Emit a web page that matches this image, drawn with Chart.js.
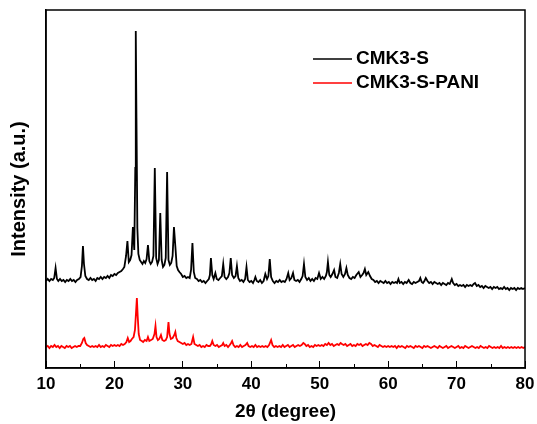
<!DOCTYPE html>
<html>
<head>
<meta charset="utf-8">
<script src="https://cdn.jsdelivr.net/npm/chart.js@4.4.1/dist/chart.umd.min.js"></script>
<style>
  body { margin: 0; background: #fff; }
  #wrap { width: 537px; height: 424px; }
</style>
</head>
<body>
<div id="wrap"><canvas id="xrdChart" width="537" height="424"></canvas></div>
<script>
// series names
var seriesNames = ['CMK3-S', 'CMK3-S-PANI'];

// 2theta (degree), intensity (a.u.)
var cmk3s = [
  [10.0,87],[10.25,89],[10.5,87],[10.75,89],[11.0,88],[11.2,90],[11.4,100],[11.6,89],[11.8,87],[12.05,89],
  [12.3,87],[12.55,88],[12.8,86],[13.05,88],[13.3,87],[13.55,89],[13.8,87],[14.05,88],[14.3,86],[14.55,88],
  [14.8,89],[15.05,91],[15.25,102],[15.4,122],[15.55,104],[15.75,92],[16.0,89],[16.25,88],[16.5,90],[16.75,88],
  [17.0,89],[17.25,87],[17.5,90],[17.75,89],[18.0,91],[18.25,89],[18.5,91],[18.75,90],[19.0,92],[19.25,90],
  [19.5,93],[19.75,92],[20.0,94],[20.25,93],[20.5,95],[20.75,96],[21.0,97],[21.25,99],[21.45,101],[21.7,112],
  [21.9,127],[22.1,106],[22.3,108],[22.5,113],[22.7,141],[22.9,118],[23.05,200],[23.12,337],[23.22,250],[23.35,140],
  [23.5,114],[23.7,108],[23.9,106],[24.1,104],[24.3,107],[24.5,105],[24.7,109],[24.9,123],[25.1,107],[25.3,104],
  [25.5,106],[25.7,112],[25.9,200],[26.1,110],[26.3,104],[26.5,108],[26.7,155],[26.9,108],[27.1,101],[27.3,103],
  [27.5,110],[27.7,196],[27.9,108],[28.1,103],[28.3,105],[28.5,112],[28.7,141],[28.9,122],[29.1,102],[29.3,98],
  [29.5,96],[29.75,94],[30.0,91],[30.25,92],[30.5,90],[30.75,91],[31.0,90],[31.2,98],[31.4,125],[31.6,96],
  [31.8,90],[32.05,89],[32.3,87],[32.55,88],[32.8,86],[33.05,87],[33.3,85],[33.55,87],[33.8,89],[33.95,93],
  [34.1,110],[34.3,93],[34.5,89],[34.75,95],[34.95,89],[35.2,88],[35.45,90],[35.7,92],[35.9,104],[36.1,91],
  [36.35,89],[36.6,91],[36.8,95],[37.0,110],[37.2,93],[37.45,90],[37.7,92],[37.9,102],[38.1,90],[38.35,87],
  [38.6,88],[38.85,86],[39.1,89],[39.3,101],[39.5,88],[39.75,86],[40.0,87],[40.25,85],[40.45,88],[40.6,91],
  [40.8,87],[41.05,86],[41.3,88],[41.55,85],[41.8,87],[42.05,94],[42.3,89],[42.5,92],[42.7,109],[42.9,91],
  [43.15,87],[43.4,85],[43.65,87],[43.9,86],[44.15,88],[44.4,86],[44.65,87],[44.9,86],[45.15,89],[45.4,95],
  [45.6,88],[45.85,90],[46.1,95],[46.3,88],[46.55,87],[46.8,88],[47.05,86],[47.3,89],[47.5,92],[47.7,104],
  [47.9,91],[48.15,88],[48.4,90],[48.65,87],[48.9,89],[49.15,87],[49.4,90],[49.65,89],[49.9,95],[50.15,89],
  [50.4,91],[50.65,89],[50.9,92],[51.05,96],[51.2,106],[51.4,93],[51.6,91],[51.85,94],[52.1,98],[52.3,91],
  [52.55,90],[52.8,95],[53.0,104],[53.2,94],[53.45,91],[53.7,94],[53.9,100],[54.1,93],[54.35,90],[54.6,89],
  [54.85,91],[55.1,90],[55.35,93],[55.7,96],[55.95,91],[56.2,93],[56.4,95],[56.6,99],[56.8,93],[57.1,96],
  [57.35,92],[57.6,89],[57.85,88],[58.1,86],[58.35,87],[58.6,85],[58.85,87],[59.1,86],[59.35,85],[59.6,87],
  [59.85,85],[60.1,86],[60.35,84],[60.6,86],[60.85,85],[61.1,86],[61.3,85],[61.5,89],[61.7,85],[61.95,86],
  [62.2,84],[62.45,86],[62.7,85],[63.0,88],[63.25,85],[63.5,84],[63.75,86],[64.0,85],[64.25,86],[64.5,87],
  [64.7,90],[64.9,86],[65.1,85],[65.3,87],[65.5,90],[65.75,87],[66.0,85],[66.25,86],[66.5,84],[66.75,86],
  [67.0,85],[67.25,84],[67.5,85],[67.75,83],[68.0,85],[68.25,84],[68.5,83],[68.75,85],[69.0,84],[69.3,89],
  [69.5,85],[69.75,83],[70.0,84],[70.25,82],[70.5,83],[70.75,82],[71.0,83],[71.25,81],[71.5,83],[71.75,82],
  [72.0,83],[72.25,82],[72.5,84],[72.7,85],[72.95,82],[73.2,83],[73.45,81],[73.7,82],[73.95,80],[74.2,82],
  [74.45,81],[74.7,80],[74.95,81],[75.2,79],[75.45,81],[75.7,80],[75.95,81],[76.2,79],[76.45,80],[76.7,79],
  [76.95,81],[77.2,79],[77.45,80],[77.7,78],[77.95,80],[78.2,79],[78.45,80],[78.7,78],[78.95,80],[79.2,79],
  [79.45,80],[79.7,79],[80.0,80]
];

var cmk3sPani = [
  [10.0,21],[10.25,22],[10.5,20],[10.75,22],[11.0,21],[11.25,23],[11.5,21],[11.75,22],[12.0,20],[12.25,22],
  [12.5,21],[12.75,20],[13.0,22],[13.25,21],[13.5,22],[13.75,20],[14.0,21],[14.25,22],[14.5,21],[14.75,22],
  [15.0,22],[15.25,25],[15.45,29],[15.6,30],[15.8,25],[16.0,23],[16.25,22],[16.5,21],[16.75,22],[17.0,21],
  [17.25,22],[17.5,21],[17.75,23],[18.0,21],[18.25,22],[18.5,21],[18.75,23],[19.0,22],[19.25,21],[19.5,23],
  [19.75,22],[20.0,23],[20.25,22],[20.5,23],[20.75,22],[21.0,24],[21.25,23],[21.5,24],[21.75,26],[21.95,30],
  [22.15,26],[22.35,27],[22.55,29],[22.8,31],[23.0,38],[23.15,55],[23.28,70],[23.4,52],[23.55,34],[23.75,28],
  [24.0,27],[24.2,26],[24.45,28],[24.7,27],[24.9,31],[25.1,27],[25.35,28],[25.6,29],[25.85,34],[26.0,42],
  [26.15,31],[26.35,28],[26.55,29],[26.8,33],[27.0,28],[27.25,27],[27.5,28],[27.7,31],[27.9,46],[28.05,34],
  [28.25,29],[28.5,30],[28.75,33],[28.9,36],[29.05,30],[29.25,27],[29.5,26],[29.75,25],[30.0,24],[30.25,25],
  [30.5,23],[30.75,24],[31.0,23],[31.25,24],[31.5,31],[31.7,24],[31.95,23],[32.2,22],[32.45,23],[32.7,21],
  [32.95,22],[33.2,21],[33.45,23],[33.7,22],[33.95,22],[34.15,24],[34.3,27],[34.5,23],[34.75,22],[35.0,23],
  [35.25,21],[35.5,22],[35.75,23],[35.9,25],[36.1,22],[36.35,23],[36.6,21],[36.85,23],[37.05,25],[37.2,27],
  [37.4,23],[37.65,21],[37.9,22],[38.15,21],[38.4,23],[38.65,21],[38.9,22],[39.15,23],[39.4,25],[39.6,22],
  [39.85,21],[40.1,22],[40.35,21],[40.6,23],[40.85,21],[41.1,22],[41.35,21],[41.6,22],[41.85,21],[42.1,22],
  [42.35,21],[42.6,23],[42.9,28],[43.1,23],[43.35,21],[43.6,22],[43.85,21],[44.1,22],[44.35,21],[44.6,23],
  [44.85,21],[45.1,22],[45.35,23],[45.6,21],[45.85,22],[46.1,23],[46.35,21],[46.6,22],[46.85,23],[47.1,22],
  [47.35,23],[47.6,25],[47.8,24],[48.05,22],[48.3,23],[48.55,21],[48.8,22],[49.05,21],[49.3,23],[49.55,22],
  [49.8,23],[50.05,22],[50.3,23],[50.55,22],[50.8,24],[51.05,23],[51.3,25],[51.55,23],[51.8,24],[52.05,22],
  [52.3,23],[52.55,24],[52.8,23],[53.05,25],[53.25,24],[53.5,23],[53.75,24],[54.0,22],[54.25,23],[54.5,24],
  [54.75,22],[55.0,23],[55.25,22],[55.5,24],[55.75,23],[56.0,24],[56.25,22],[56.5,23],[56.75,24],[57.0,23],
  [57.25,25],[57.5,24],[57.75,22],[58.0,23],[58.25,22],[58.5,21],[58.75,23],[59.0,22],[59.25,21],[59.5,22],
  [59.75,21],[60.0,22],[60.25,21],[60.5,22],[60.75,21],[61.0,22],[61.25,20],[61.5,22],[61.75,21],[62.0,22],
  [62.25,21],[62.5,20],[62.75,22],[63.0,21],[63.25,22],[63.5,21],[63.75,20],[64.0,22],[64.25,21],[64.5,22],
  [64.75,21],[65.0,20],[65.25,22],[65.5,21],[65.75,22],[66.0,21],[66.25,20],[66.5,21],[66.75,22],[67.0,21],
  [67.25,20],[67.5,22],[67.75,21],[68.0,20],[68.25,21],[68.5,22],[68.75,20],[69.0,21],[69.25,22],[69.5,21],
  [69.75,20],[70.0,21],[70.25,22],[70.5,20],[70.75,21],[71.0,20],[71.25,22],[71.5,21],[71.75,20],[72.0,21],
  [72.25,22],[72.5,21],[72.75,20],[73.0,21],[73.25,20],[73.5,22],[73.75,21],[74.0,20],[74.25,21],[74.5,20],
  [74.75,22],[75.0,21],[75.25,20],[75.5,21],[75.75,20],[76.0,21],[76.25,20],[76.5,22],[76.75,20],[77.0,21],
  [77.25,20],[77.5,21],[77.75,20],[78.0,21],[78.25,20],[78.5,21],[78.75,20],[79.0,21],[79.25,20],[79.5,21],
  [79.75,20],[80.0,21]
];

// axis ticks
var xMajorTicks = [10, 20, 30, 40, 50, 60, 70, 80];
var xMinorTicks = [15, 25, 35, 45, 55, 65, 75];

function toPoints(rows) {
    return rows.map(function (r) { return { x: r[0], y: r[1] }; });
}

// frame, minor ticks and the legend inside the plot
const framePlugin = {
    id: 'frame',
    afterDraw: function (chart) {
        const ctx = chart.ctx;
        const a = chart.chartArea;
        const xs = chart.scales.x;
        ctx.save();
        ctx.strokeStyle = '#000';
        ctx.lineWidth = 1.5;
        ctx.strokeRect(a.left, a.top, a.right - a.left, a.bottom - a.top);

        ctx.lineWidth = 1;
        xMinorTicks.forEach(function (v) {
            const px = Math.round(xs.getPixelForValue(v)) + 0.5;
            ctx.beginPath();
            ctx.moveTo(px, a.bottom);
            ctx.lineTo(px, a.bottom - 4);
            ctx.stroke();
        });

        // legend
        ctx.font = 'bold 19px "Liberation Sans", Arial, sans-serif';
        ctx.textBaseline = 'middle';
        chart.data.datasets.forEach(function (ds, i) {
            const y = a.top + 49 + i * 24;
            ctx.strokeStyle = ds.borderColor;
            ctx.lineWidth = 1.5;
            ctx.beginPath();
            ctx.moveTo(a.left + 267, y);
            ctx.lineTo(a.left + 306, y);
            ctx.stroke();
            ctx.fillStyle = '#000';
            ctx.fillText(ds.label, a.left + 310, y);
        });
        ctx.restore();
    }
};

const data = {
    datasets: [{
        label: seriesNames[0],
        data: toPoints(cmk3s),
        borderColor: '#000000',
        borderWidth: 1.8,
        pointRadius: 0,
        tension: 0
    }, {
        label: seriesNames[1],
        data: toPoints(cmk3sPani),
        borderColor: '#ff0000',
        borderWidth: 1.8,
        pointRadius: 0,
        tension: 0
    }]
};

const config = {
    type: 'line',
    data: data,
    plugins: [framePlugin],
    options: {
        responsive: false,
        animation: false,
        layout: { padding: { top: 10, right: 12, left: 0, bottom: 0 } },
        plugins: {
            legend: { display: false },
            tooltip: { enabled: false }
        },
        scales: {
            x: {
                type: 'linear',
                min: 10,
                max: 80,
                afterFit: function (scale) {
                    scale.height = 56;
                    scale.paddingLeft = 0;
                    scale.paddingRight = 0;
                },
                afterBuildTicks: function (scale) {
                    scale.ticks = xMajorTicks.map(function (v) { return { value: v }; });
                },
                ticks: {
                    color: '#000',
                    padding: 13,
                    maxRotation: 0,
                    font: { family: '"Liberation Sans", Arial, sans-serif', size: 17, weight: 'bold' }
                },
                grid: {
                    drawOnChartArea: false,
                    drawTicks: true,
                    tickLength: -7,
                    color: '#000',
                    lineWidth: 1
                },
                border: { display: true, color: '#000', width: 1.5 },
                title: {
                    display: true,
                    text: '2\u03b8 (degree)',
                    color: '#000',
                    padding: { top: 0, bottom: 1 },
                    font: { family: '"Liberation Sans", Arial, sans-serif', size: 19, weight: 'bold' }
                }
            },
            y: {
                min: 0,
                max: 358,
                afterFit: function (scale) {
                    scale.width = 46;
                    scale.paddingTop = 0;
                    scale.paddingBottom = 0;
                },
                ticks: { display: false },
                grid: { display: false },
                border: { display: true, color: '#000', width: 1.5 },
                title: {
                    display: true,
                    text: 'Intensity (a.u.)',
                    color: '#000',
                    padding: { top: 7, bottom: 0 },
                    font: { family: '"Liberation Sans", Arial, sans-serif', size: 20, weight: 'bold' }
                }
            }
        }
    }
};

const xrdChart = new Chart(
    document.getElementById('xrdChart'),
    config
);
</script>
</body>
</html>
